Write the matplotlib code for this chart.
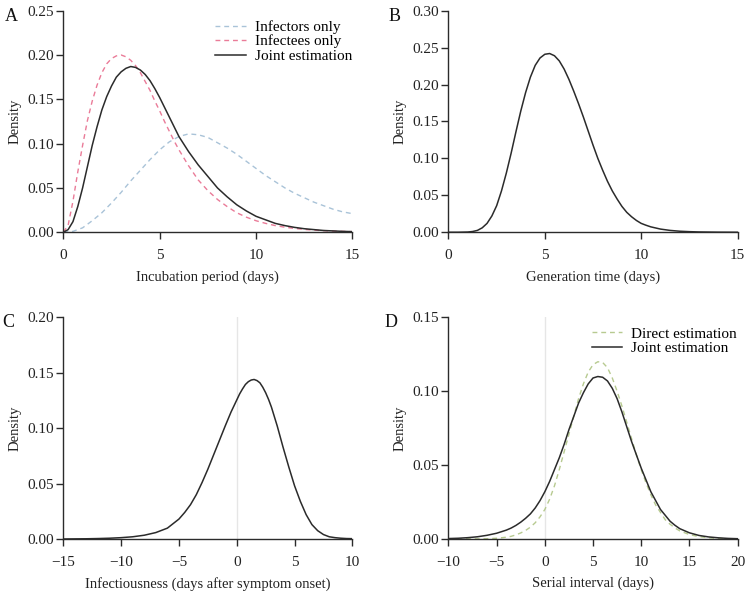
import matplotlib
matplotlib.use("Agg")
import matplotlib.pyplot as plt

plt.rcParams["font.family"] = ["Liberation Serif", "DejaVu Serif"]
plt.rcParams["font.size"] = 11

# A: incubation period (days) -> density
inc_x = [0, 0.25, 0.5, 0.75, 1.0, 1.25, 1.5, 1.75, 2.0, 2.25, 2.5, 2.75, 3.0, 3.25,
         3.5, 3.75, 4.0, 4.25, 4.5, 4.75, 5.0, 5.25, 5.5, 5.75, 6.0, 6.5, 7.0, 7.5,
         8.0, 8.5, 9.0, 9.5, 10.0, 10.5, 11.0, 11.5, 12.0, 12.5, 13.0, 13.5, 14.0,
         14.5, 15.0]
inc_joint = [0, 0.003, 0.012, 0.029, 0.050, 0.074, 0.098, 0.119, 0.138, 0.153, 0.165,
             0.175, 0.181, 0.185, 0.187, 0.186, 0.183, 0.178, 0.171, 0.162, 0.152,
             0.141, 0.130, 0.119, 0.108, 0.091, 0.076, 0.063, 0.050, 0.040, 0.031,
             0.024, 0.018, 0.014, 0.010, 0.0075, 0.0055, 0.004, 0.003, 0.002, 0.0015,
             0.001, 0.0007]
inc_infectees = [0, 0.008, 0.035, 0.068, 0.098, 0.126, 0.148, 0.166, 0.180, 0.190,
                 0.196, 0.199, 0.200, 0.198, 0.194, 0.188, 0.180, 0.170, 0.160, 0.148,
                 0.137, 0.125, 0.114, 0.103, 0.093, 0.075, 0.059, 0.047, 0.037, 0.029,
                 0.022, 0.017, 0.013, 0.010, 0.0075, 0.0057, 0.0043, 0.0032, 0.0024,
                 0.0018, 0.0013, 0.001, 0.0007]
inf_x = [0, 0.5, 1.0, 1.5, 2.0, 2.5, 3.0, 3.5, 4.0, 4.5, 5.0, 5.5, 6.0, 6.5, 7.0, 7.5,
         8.0, 8.5, 9.0, 9.5, 10.0, 10.5, 11.0, 11.5, 12.0, 12.5, 13.0, 13.5, 14.0,
         14.5, 15.0]
inc_infectors = [0, 0.001, 0.005, 0.013, 0.022, 0.033, 0.045, 0.058, 0.070, 0.082,
                 0.093, 0.102, 0.108, 0.111, 0.110, 0.107, 0.101, 0.095, 0.088, 0.080,
                 0.072, 0.064, 0.057, 0.050, 0.044, 0.039, 0.034, 0.030, 0.026, 0.023,
                 0.021]

# B: generation time
gen_x = [0, 0.5, 1.0, 1.25, 1.5, 1.75, 2.0, 2.25, 2.5, 2.75, 3.0, 3.25, 3.5, 3.75,
         4.0, 4.25, 4.5, 4.75, 5.0, 5.25, 5.5, 5.75, 6.0, 6.25, 6.5, 6.75, 7.0, 7.25,
         7.5, 7.75, 8.0, 8.25, 8.5, 8.75, 9.0, 9.25, 9.5, 9.75, 10.0, 10.25, 10.5,
         11.0, 11.5, 12.0, 12.5, 13.0, 14.0, 15.0]
gen_y = [0, 0, 0.0003, 0.001, 0.0025, 0.006, 0.012, 0.022, 0.036, 0.056, 0.080, 0.107,
         0.136, 0.164, 0.189, 0.210, 0.226, 0.236, 0.241, 0.242, 0.239, 0.232, 0.221,
         0.207, 0.191, 0.174, 0.156, 0.137, 0.118, 0.100, 0.084, 0.069, 0.056, 0.045,
         0.035, 0.027, 0.021, 0.016, 0.012, 0.0095, 0.0073, 0.0043, 0.0025, 0.0014,
         0.0008, 0.0004, 0.0001, 0]

# C: infectiousness relative to symptom onset
infc_x = [-15, -14, -13, -12, -11, -10, -9, -8, -7, -6, -5, -4.5, -4, -3.5, -3, -2.5,
          -2, -1.5, -1, -0.5, 0, 0.25, 0.5, 0.75, 1.0, 1.25, 1.5, 1.75, 2.0, 2.25,
          2.5, 2.75, 3.0, 3.5, 4.0, 4.5, 5.0, 5.5, 6.0, 6.5, 7.0, 7.5, 8.0, 8.5, 9.0,
          9.5, 10.0]
infc_y = [0, 0.0001, 0.0002, 0.0004, 0.0007, 0.0012, 0.002, 0.0034, 0.0058, 0.0098,
          0.018, 0.024, 0.031, 0.040, 0.051, 0.063, 0.076, 0.089, 0.102, 0.1145,
          0.1255, 0.131, 0.1355, 0.1395, 0.142, 0.1435, 0.144, 0.143, 0.141, 0.137,
          0.132, 0.126, 0.119, 0.102, 0.083, 0.065, 0.048, 0.034, 0.022, 0.013, 0.0075,
          0.004, 0.002, 0.0012, 0.0007, 0.0004, 0.0003]

# D: serial interval
si_x = [-10, -9, -8, -7, -6, -5, -4, -3.5, -3, -2.5, -2, -1.5, -1, -0.5, 0, 0.5, 1,
        1.5, 2, 2.5, 3, 3.5, 4, 4.5, 5, 5.5, 6, 6.5, 7, 7.5, 8, 8.5, 9, 9.5, 10, 10.5,
        11, 11.5, 12, 12.5, 13, 13.5, 14, 15, 16, 17, 18, 19, 20]
si_joint = [0.0003, 0.0005, 0.0009, 0.0015, 0.0025, 0.0039, 0.006, 0.0074, 0.0092,
            0.0114, 0.014, 0.017, 0.021, 0.026, 0.032, 0.039, 0.047, 0.055, 0.064,
            0.074, 0.083, 0.092, 0.099, 0.105, 0.109, 0.110, 0.1095, 0.107, 0.102,
            0.095, 0.086, 0.076, 0.066, 0.057, 0.048, 0.040, 0.032, 0.026, 0.020,
            0.016, 0.012, 0.0093, 0.007, 0.0042, 0.0024, 0.0014, 0.0008, 0.0004,
            0.0002]
si_direct = [0, 0, 0.0001, 0.0001, 0.0002, 0.0005, 0.0012, 0.0018, 0.0028, 0.0041,
             0.0058, 0.008, 0.011, 0.015, 0.020, 0.027, 0.036, 0.047, 0.059, 0.071,
             0.083, 0.095, 0.105, 0.113, 0.118, 0.120, 0.1195, 0.116, 0.109, 0.100,
             0.090, 0.079, 0.068, 0.057, 0.047, 0.038, 0.030, 0.023, 0.018, 0.013,
             0.010, 0.0075, 0.0055, 0.003, 0.0016, 0.0008, 0.0004, 0.0002, 0.0001]

BLACK = "#2b2b2b"
BLUE = "#a9c3d8"
PINK = "#ea7b98"
GREEN = "#b7ca90"
DASH = (0, (3.5, 2.8))

fig = plt.figure(figsize=(7.45, 5.94), dpi=100)
w, h = 0.388, 0.373
axA = fig.add_axes([0.085, 0.609, w, h])
axB = fig.add_axes([0.602, 0.609, w, h])
axC = fig.add_axes([0.085, 0.0926, w, h])
axD = fig.add_axes([0.602, 0.0926, w, h])


def style(ax, xlim, ylim, yticks, xticks, xlabel):
    ax.set_xlim(*xlim)
    ax.set_ylim(*ylim)
    ax.set_xticks(xticks)
    ax.set_yticks(yticks)
    ax.set_yticklabels([f"{t:.2f}" for t in yticks])
    for s in ("top", "right"):
        ax.spines[s].set_visible(False)
    for s in ("left", "bottom"):
        ax.spines[s].set_color(BLACK)
        ax.spines[s].set_linewidth(1.0)
    ax.tick_params(direction="out", length=5, width=1.0, color=BLACK,
                   labelsize=11, labelcolor="#222222")
    ax.tick_params(axis="x", pad=7)
    ax.tick_params(axis="y", pad=2)
    ax.set_xlabel(xlabel, fontsize=10.5, labelpad=6, color="#222222")
    ax.set_ylabel("Density", fontsize=10.5, labelpad=4, color="#222222")
    ax.set_facecolor("none")


axA.plot(inf_x, inc_infectors, color=BLUE, lw=1.0, ls=DASH, label="Infectors only")
axA.plot(inc_x, inc_infectees, color=PINK, lw=1.0, ls=DASH, label="Infectees only")
axA.plot(inc_x, inc_joint, color=BLACK, lw=1.1, label="Joint estimation")
style(axA, (0, 15), (0, 0.25), [0, 0.05, 0.10, 0.15, 0.20, 0.25], [0, 5, 10, 15],
      "Incubation period (days)")
axA.legend(loc="upper right", bbox_to_anchor=(1.02, 0.985), frameon=False,
           fontsize=11, handlelength=2.0, handletextpad=0.6, labelspacing=0.05,
           borderaxespad=0)

axB.plot(gen_x, gen_y, color=BLACK, lw=1.1)
style(axB, (0, 15), (0, 0.30), [0, 0.05, 0.10, 0.15, 0.20, 0.25, 0.30], [0, 5, 10, 15],
      "Generation time (days)")

axC.axvline(0, color="#e6e6e6", lw=1.0, zorder=0)
axC.plot(infc_x, infc_y, color=BLACK, lw=1.1)
style(axC, (-15, 10), (0, 0.20), [0, 0.05, 0.10, 0.15, 0.20], [-15, -10, -5, 0, 5, 10],
      "Infectiousness (days after symptom onset)")

axD.axvline(0, color="#e6e6e6", lw=1.0, zorder=0)
axD.plot(si_x, si_direct, color=GREEN, lw=1.0, ls=DASH, label="Direct estimation")
axD.plot(si_x, si_joint, color=BLACK, lw=1.1, label="Joint estimation")
style(axD, (-10, 20), (0, 0.15), [0, 0.05, 0.10, 0.15], [-10, -5, 0, 5, 10, 15, 20],
      "Serial interval (days)")
axD.legend(loc="upper right", bbox_to_anchor=(1.02, 0.985), frameon=False,
           fontsize=11, handlelength=2.0, handletextpad=0.6, labelspacing=0.05,
           borderaxespad=0)

for lab, x, y in [("A", 0.006, 0.972), ("B", 0.521, 0.972),
                  ("C", 0.003, 0.457), ("D", 0.516, 0.457)]:
    fig.text(x, y, lab, fontsize=13, ha="left", va="center", color="#111111")

fig.savefig("out.png", dpi=100)
